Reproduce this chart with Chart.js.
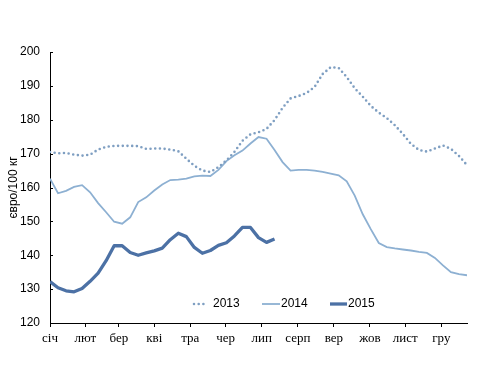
<!DOCTYPE html>
<html>
<head>
<meta charset="utf-8">
<script src="https://cdn.jsdelivr.net/npm/chart.js@4"></script>
<style>
  html, body { margin: 0; padding: 0; background: #fff; }
  #wrap { width: 487px; height: 367px; }
</style>
</head>
<body>
<div id="wrap"><canvas id="priceChart" width="487" height="367"></canvas></div>
<script>
// weekly prices, євро/100 кг
const prices2013 = [170.5, 170.1, 170.2, 169.7, 169.4, 169.7, 171.2, 172.0, 172.3, 172.3, 172.3, 172.2, 171.4, 171.5,
  171.5, 171.2, 170.7, 168.5, 166.4, 165.0, 164.6, 166.0, 168.0, 170.5, 173.8, 175.7, 176.3, 177.3, 179.9, 183.5,
  186.3, 187.0, 187.9, 189.7, 193.5, 195.5, 195.3, 192.6, 189.3, 186.8, 184.1, 182.1, 180.5, 178.4, 175.8, 172.9,
  171.1, 170.6, 171.5, 172.4, 171.4, 169.3, 166.6];
const prices2014 = [162.6, 158.3, 159.0, 160.2, 160.7, 158.6, 155.4, 152.7, 149.9, 149.3, 151.2, 155.7, 157.1, 159.1,
  160.9, 162.2, 162.3, 162.6, 163.3, 163.5, 163.4, 165.2, 167.8, 169.5, 170.9, 173.0, 174.9, 174.4, 171.1, 167.5,
  165.0, 165.2, 165.2, 165.0, 164.6, 164.1, 163.6, 161.8, 157.6, 152.1, 147.7, 143.6, 142.4, 142.0, 141.7, 141.4,
  141.0, 140.7, 139.2, 137.0, 135.0, 134.4, 134.1];
const prices2015 = [132.2, 130.4, 129.5, 129.2, 130.2, 132.3, 134.7, 138.4, 142.8, 142.8, 140.8, 140.0, 140.7, 141.3,
  142.1, 144.6, 146.5, 145.5, 142.3, 140.6, 141.4, 142.9, 143.7, 145.7, 148.2, 148.2, 145.2, 143.8, 144.8];

const monthLabels = ["січ", "лют", "бер", "кві", "тра", "чер", "лип", "серп", "вер", "жов", "лист", "гру"];
const monthWeeks = [0, 4.4, 8.6, 13, 17.5, 21.9, 26.4, 30.9, 35.4, 39.9, 44.3, 48.8];
const yTicks = [120, 130, 140, 150, 160, 170, 180, 190, 200];

function toPoints(values) {
  return values.map((v, i) => ({ x: i, y: v }));
}

const innerTicksPlugin = {
  id: "innerTicks",
  afterDatasetsDraw(chart) {
    const { ctx, scales } = chart;
    const y = scales.y;
    ctx.save();
    ctx.strokeStyle = "#000";
    ctx.lineWidth = 1;
    yTicks.forEach((t) => {
      const py = Math.round(y.getPixelForValue(t)) + 0.5;
      ctx.beginPath();
      ctx.moveTo(y.right, py);
      ctx.lineTo(y.right + 3, py);
      ctx.stroke();
    });
    ctx.restore();
  }
};

const insideLegendPlugin = {
  id: "insideLegend",
  afterDraw(chart) {
    const { ctx, chartArea } = chart;
    const items = [
      { ds: 0, x: 144, w: 14 },
      { ds: 1, x: 212, w: 18 },
      { ds: 2, x: 280, w: 17 }
    ];
    const y = chartArea.bottom - 19;
    ctx.save();
    ctx.font = "12px 'Liberation Sans', Arial, sans-serif";
    ctx.textBaseline = "middle";
    items.forEach((it) => {
      const ds = chart.data.datasets[it.ds];
      const x0 = chartArea.left + it.x;
      ctx.beginPath();
      ctx.strokeStyle = ds.borderColor;
      ctx.lineWidth = ds.borderWidth;
      ctx.lineCap = ds.borderCapStyle || "butt";
      ctx.setLineDash(ds.borderDash || []);
      ctx.moveTo(x0, y);
      ctx.lineTo(x0 + it.w, y);
      ctx.stroke();
      ctx.setLineDash([]);
      ctx.fillStyle = "#000";
      ctx.fillText(ds.label, x0 + it.w + (it.ds === 0 ? 5 : 1), y);
    });
    ctx.restore();
  }
};

new Chart(document.getElementById("priceChart"), {
  type: "line",
  data: {
    datasets: [
      {
        label: "2013",
        data: toPoints(prices2013),
        borderColor: "#7f9fc2",
        borderWidth: 2.6,
        borderDash: [0, 4.7],
        borderCapStyle: "round",
        pointRadius: 0,
        tension: 0
      },
      {
        label: "2014",
        data: toPoints(prices2014),
        borderColor: "#8db0d2",
        borderWidth: 1.8,
        pointRadius: 0,
        tension: 0
      },
      {
        label: "2015",
        data: toPoints(prices2015),
        borderColor: "#4c71a5",
        borderWidth: 3.3,
        borderJoinStyle: "round",
        pointRadius: 0,
        tension: 0
      }
    ]
  },
  options: {
    responsive: false,
    animation: false,
    layout: { padding: { left: 0, right: 20, top: 52, bottom: 0 } },
    plugins: {
      legend: { display: false },
      tooltip: { enabled: false }
    },
    scales: {
      x: {
        type: "linear",
        min: 0,
        max: 52,
        afterFit(scale) { scale.height = 44; },
        afterBuildTicks(scale) {
          scale.ticks = monthWeeks.map((w) => ({ value: w }));
        },
        grid: { drawOnChartArea: false, drawTicks: true, tickLength: 4, color: "#000" },
        border: { color: "#000", width: 1 },
        ticks: {
          autoSkip: false,
          maxRotation: 0,
          padding: 4,
          color: "#000",
          font: { family: "'Liberation Serif', 'Times New Roman', serif", size: 13 },
          callback(value, index) { return monthLabels[index]; }
        }
      },
      y: {
        min: 120,
        max: 200,
        afterFit(scale) { scale.width = 50; },
        afterBuildTicks(scale) {
          scale.ticks = yTicks.map((v) => ({ value: v }));
        },
        grid: { drawOnChartArea: false, drawTicks: false },
        border: { color: "#000", width: 1 },
        ticks: {
          padding: 10,
          color: "#000",
          font: { family: "'Liberation Sans', Arial, sans-serif", size: 12 }
        },
        title: {
          display: true,
          text: "євро/100 кг",
          color: "#000",
          padding: { top: 6, bottom: 0 },
          font: { family: "'Liberation Sans', Arial, sans-serif", size: 12 }
        }
      }
    }
  },
  plugins: [innerTicksPlugin, insideLegendPlugin]
});
</script>
</body>
</html>
